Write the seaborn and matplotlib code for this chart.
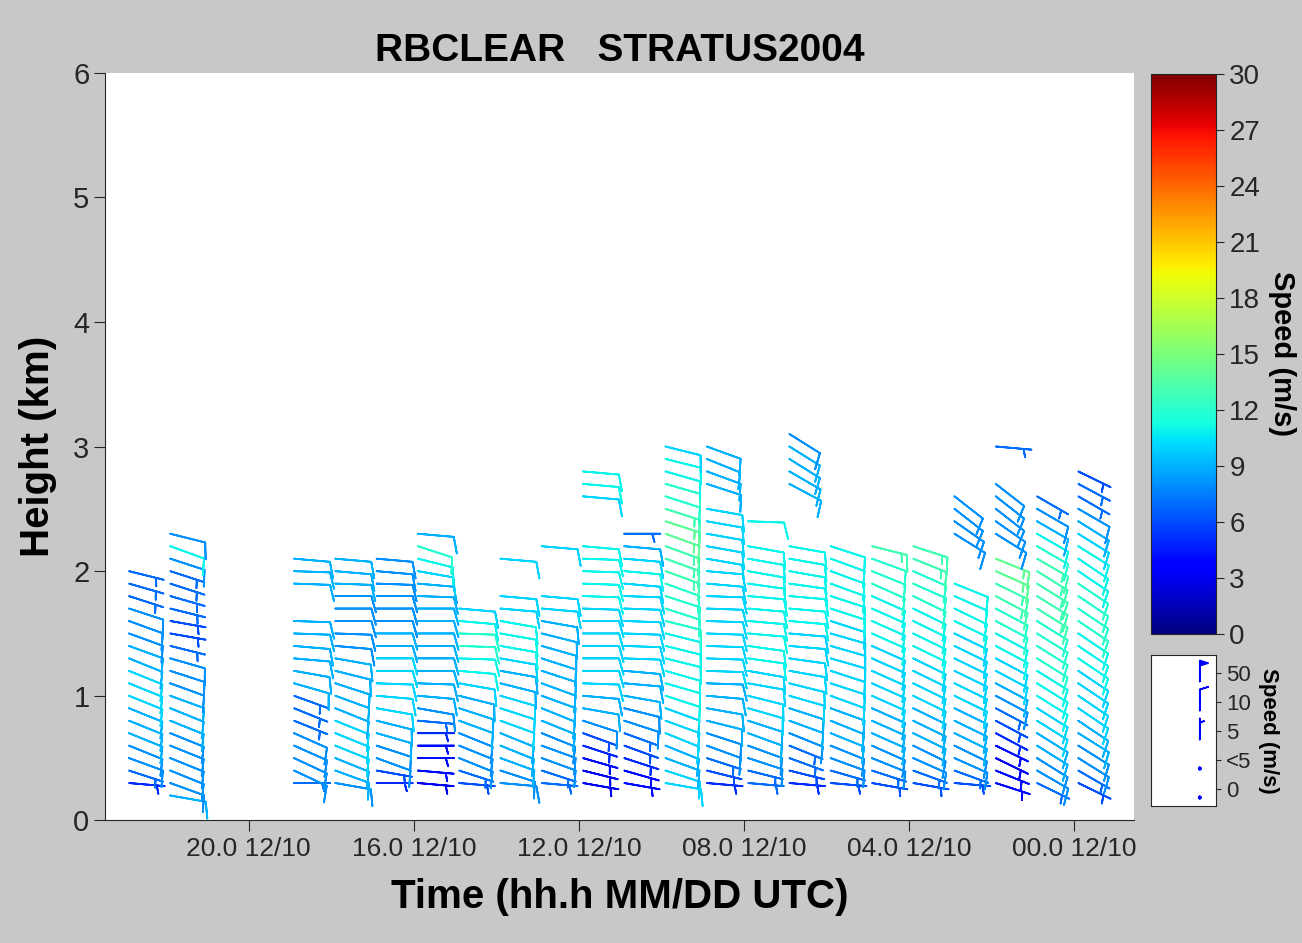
import numpy as np
import matplotlib
matplotlib.use("Agg")
import matplotlib.pyplot as plt
import seaborn as sns

sns.set_style("white")
plt.rcParams['font.family'] = ['Liberation Sans', 'DejaVu Sans']
plt.rcParams['text.color'] = 'black'
plt.rcParams['axes.labelcolor'] = 'black'

# profile times (hours UTC, 12/10), plotted right-to-left
times = [22.9, 21.9, 18.9, 17.9, 16.9, 15.9, 14.9, 13.9, 12.9, 11.9, 10.9,
         9.9, 8.9, 7.9, 6.9, 5.9, 4.9, 3.9, 2.9, 1.9, 0.9, -0.1]

# height segments (km) with data for each profile
segments = [
    [(0.3, 2.0)], [(0.2, 2.3)], [(0.3, 1.6), (1.9, 2.1)], [(0.3, 2.1)], [(0.3, 2.1)],
    [(0.3, 2.3)], [(0.3, 1.7)], [(0.3, 1.8), (2.1, 2.1)], [(0.3, 1.8), (2.2, 2.2)],
    [(0.3, 2.2), (2.6, 2.8)], [(0.3, 2.3)], [(0.3, 3.0)], [(0.3, 2.5), (2.7, 3.0)],
    [(0.3, 2.2), (2.4, 2.4)], [(0.3, 2.2), (2.7, 3.1)], [(0.3, 2.2)], [(0.3, 2.2)],
    [(0.3, 2.2)], [(0.3, 1.9), (2.3, 2.6)], [(0.3, 2.1), (2.3, 2.7), (3.0, 3.0)],
    [(0.3, 2.6)], [(0.3, 2.8)],
]

# wind speed (m/s), bottom to top
speeds = [
    [5, 7, 8, 8, 9, 9, 9, 10, 10, 10, 9, 9, 8, 8, 8, 7, 7, 7],
    [9, 8, 8, 8, 8, 8, 9, 9, 9, 8, 8, 8, 7, 6, 6, 7, 7, 7, 7, 8, 11, 8],
    [7, 8, 8, 8, 8, 7, 7, 7, 9, 9, 9, 9, 9, 9, 9, 9, 9],
    [8, 9, 9, 10, 10, 10, 9, 9, 9, 9, 9, 8, 8, 8, 8, 8, 9, 9, 9],
    [5, 6, 8, 8, 9, 9, 10, 10, 10, 10, 10, 9, 9, 8, 8, 8, 8, 8, 8],
    [3, 4, 4, 4, 5, 7, 8, 9, 9, 9, 9, 9, 9, 9, 9, 9, 9, 10, 11, 12, 9],
    [6, 7, 8, 8, 8, 9, 9, 9, 10, 11, 11, 12, 12, 11, 10],
    [8, 8, 9, 9, 9, 10, 10, 10, 9, 9, 10, 11, 11, 11, 10, 10, 10],
    [7, 7, 8, 8, 8, 9, 9, 9, 9, 9, 9, 9, 9, 9, 10, 10, 10],
    [3, 3, 4, 5, 6, 8, 9, 9, 10, 10, 10, 10, 10, 10, 10, 11, 11, 11, 11, 11, 10, 11, 11],
    [4, 4, 5, 6, 7, 8, 8, 9, 9, 9, 10, 10, 10, 10, 10, 10, 10, 11, 10, 9, 7],
    [10, 10, 9, 9, 10, 10, 10, 11, 11, 11, 11, 11, 11, 12, 12, 12, 12, 13, 13, 13, 14, 14, 13, 12, 12, 11, 11, 10],
    [5, 6, 7, 8, 8, 9, 9, 9, 9, 10, 10, 10, 10, 10, 10, 10, 10, 10, 10, 10, 10, 10, 10, 9, 9, 9, 9],
    [7, 7, 8, 8, 9, 9, 10, 10, 10, 10, 11, 11, 11, 11, 11, 11, 11, 11, 11, 11, 11],
    [5, 6, 7, 7, 8, 9, 9, 10, 10, 10, 10, 10, 10, 11, 11, 11, 11, 11, 11, 11, 9, 9, 9, 9, 8],
    [6, 7, 8, 8, 9, 9, 9, 10, 10, 10, 10, 10, 10, 10, 11, 11, 11, 11, 11, 11],
    [6, 7, 8, 8, 9, 9, 9, 10, 10, 10, 10, 10, 11, 11, 11, 11, 12, 12, 12, 13],
    [6, 7, 8, 8, 9, 9, 9, 10, 10, 10, 10, 11, 11, 11, 11, 12, 12, 12, 13, 13],
    [6, 7, 8, 8, 9, 9, 9, 10, 10, 10, 10, 10, 10, 11, 11, 11, 11, 8, 8, 8, 8],
    [4, 4, 3, 4, 5, 6, 7, 8, 9, 10, 10, 11, 11, 12, 12, 13, 13, 14, 14, 8, 8, 8, 8, 8, 7],
    [7, 8, 8, 9, 9, 10, 10, 11, 11, 11, 12, 12, 12, 12, 13, 13, 13, 13, 13, 12, 11, 9, 8, 7],
    [6, 7, 8, 8, 9, 9, 10, 10, 10, 10, 11, 11, 11, 12, 12, 12, 12, 11, 11, 11, 10, 9, 8, 7, 7, 6],
]

# direction the wind blows from (deg), bottom to top
directions = [
    [95, 108, 110, 112, 112, 112, 112, 112, 112, 112, 112, 110, 110, 110, 108, 108, 106, 104],
    [100, 110, 112, 112, 112, 112, 112, 112, 110, 110, 108, 106, 104, 100, 100, 104, 106, 108, 108, 108, 110, 104],
    [90, 115, 115, 114, 114, 112, 112, 110, 106, 100, 95, 95, 92, 92, 92, 92, 95],
    [100, 110, 112, 112, 112, 112, 112, 110, 108, 104, 100, 95, 92, 90, 90, 90, 92, 95, 95],
    [90, 100, 110, 108, 106, 104, 100, 95, 92, 90, 90, 90, 90, 90, 90, 90, 92, 95, 95],
    [95, 95, 90, 90, 90, 95, 100, 95, 92, 90, 90, 90, 90, 90, 90, 92, 95, 100, 104, 108, 95],
    [95, 108, 112, 112, 112, 110, 108, 104, 100, 95, 92, 92, 92, 95, 95],
    [95, 108, 110, 112, 112, 110, 108, 106, 104, 100, 100, 100, 100, 100, 95, 95, 95],
    [95, 108, 110, 110, 112, 112, 112, 110, 110, 108, 108, 106, 104, 100, 95, 95, 95],
    [100, 104, 106, 108, 110, 108, 100, 95, 92, 90, 90, 90, 90, 90, 92, 92, 92, 92, 92, 95, 95, 95, 95],
    [100, 106, 108, 110, 110, 108, 104, 100, 95, 95, 92, 92, 92, 92, 92, 92, 95, 95, 95, 95, 90],
    [100, 108, 110, 112, 112, 110, 110, 108, 106, 106, 104, 104, 104, 104, 108, 108, 110, 110, 110, 110, 110, 108, 108, 108, 106, 106, 104, 104],
    [95, 104, 108, 110, 108, 104, 100, 95, 92, 92, 92, 92, 92, 92, 92, 92, 95, 95, 100, 100, 100, 100, 100, 108, 110, 112, 110],
    [95, 104, 108, 110, 110, 108, 106, 104, 100, 100, 98, 98, 95, 95, 95, 95, 98, 100, 100, 100, 92],
    [95, 104, 110, 112, 112, 110, 108, 106, 104, 100, 98, 95, 95, 95, 95, 95, 98, 100, 100, 100, 118, 120, 122, 122, 122],
    [95, 106, 110, 112, 112, 112, 110, 110, 108, 108, 106, 106, 106, 108, 108, 108, 110, 110, 110, 108],
    [100, 108, 112, 114, 114, 114, 114, 114, 114, 114, 114, 114, 114, 114, 114, 114, 114, 112, 110, 104],
    [100, 110, 114, 116, 116, 116, 116, 116, 116, 116, 116, 116, 116, 116, 116, 116, 114, 114, 112, 108],
    [95, 110, 114, 116, 116, 116, 116, 116, 116, 116, 116, 116, 116, 116, 116, 114, 112, 122, 125, 128, 128],
    [108, 112, 116, 116, 118, 118, 118, 118, 118, 118, 118, 118, 118, 118, 118, 118, 116, 114, 112, 122, 125, 128, 128, 128, 95],
    [116, 120, 122, 122, 122, 122, 122, 122, 122, 122, 122, 122, 122, 122, 122, 122, 122, 122, 120, 120, 120, 120, 120, 120],
    [116, 120, 122, 122, 122, 124, 124, 124, 124, 124, 124, 124, 124, 124, 124, 124, 124, 124, 124, 122, 122, 122, 120, 120, 118, 116],
]

tick_hours = [20, 16, 12, 8, 4, 0]
tick_labels = ["20.0 12/10", "16.0 12/10", "12.0 12/10", "08.0 12/10", "04.0 12/10", "00.0 12/10"]
cbar_ticks = [0, 3, 6, 9, 12, 15, 18, 21, 24, 27, 30]
legend_labels = ["0", "<5", "5", "10", "50"]
legend_speeds = [0, 2, 5, 10, 50]

xs, ys, us, vs, cs = [], [], [], [], []
for t, segs, spd, dr in zip(times, segments, speeds, directions):
    hts = np.concatenate([np.round(np.arange(a, b + 0.001, 0.1), 2) for a, b in segs])
    for h, s, d in zip(hts, spd, dr):
        rad = np.deg2rad(d)
        xs.append(t); ys.append(h)
        us.append(-s * np.sin(rad)); vs.append(-s * np.cos(rad)); cs.append(s)
xs, ys, us, vs, cs = map(np.array, (xs, ys, us, vs, cs))

fig = plt.figure(figsize=(13.02, 9.43), dpi=100)
fig.patch.set_facecolor("#c8c8c8")
ax = fig.add_axes([0.081, 0.13, 0.79, 0.793])
ax.set_facecolor("white")

norm = plt.Normalize(0, 30)
ax.barbs(xs, ys, us, vs, cs, cmap="jet", norm=norm, length=7.2, linewidth=1.3,
         flip_barb=False, sizes=dict(emptybarb=0.05, height=0.45, spacing=0.15))

ax.set_xlim(23.47, -1.45)
ax.set_ylim(0, 6)
ax.set_xticks(tick_hours)
ax.set_xticklabels(tick_labels, fontsize=19)
ax.set_yticks(range(7))
ax.tick_params(axis="y", labelsize=21, length=8, direction="out", left=True)
ax.tick_params(axis="x", length=8, direction="out", bottom=True, pad=4)
for sp in ["top", "right"]:
    ax.spines[sp].set_visible(False)
ax.set_xlabel("Time (hh.h MM/DD UTC)", fontsize=29, fontweight="bold", labelpad=12)
ax.set_ylabel("Height (km)", fontsize=29, fontweight="bold", labelpad=12)
ax.set_title("RBCLEAR   STRATUS2004", fontsize=28, fontweight="bold", pad=8)

# colour bar
cax = fig.add_axes([0.884, 0.328, 0.05, 0.594])
sm = plt.cm.ScalarMappable(cmap="jet", norm=norm)
cb = fig.colorbar(sm, cax=cax, ticks=cbar_ticks)
cb.ax.tick_params(labelsize=20, length=6)
cb.set_label("Speed (m/s)", fontsize=21, fontweight="bold", rotation=270, labelpad=26)

# barb legend
lax = fig.add_axes([0.884, 0.145, 0.05, 0.16])
lax.set_facecolor("white")
lpos = np.arange(len(legend_speeds))
lax.barbs(np.full(len(lpos), 0.75), lpos - 0.3, np.zeros(len(lpos)), -np.array(legend_speeds, float),
          color="blue", length=5.5, linewidth=1.2, flip_barb=False,
          sizes=dict(emptybarb=0.05))
lax.set_xlim(0, 1)
lax.set_ylim(-0.6, 4.6)
lax.set_xticks([])
lax.yaxis.tick_right()
lax.set_yticks(lpos)
lax.set_yticklabels(legend_labels, fontsize=16)
lax.yaxis.set_label_position("right")
lax.set_ylabel("Speed (m/s)", fontsize=16, fontweight="bold", rotation=270, labelpad=20)

fig.savefig("out.png", dpi=100, facecolor=fig.get_facecolor())
